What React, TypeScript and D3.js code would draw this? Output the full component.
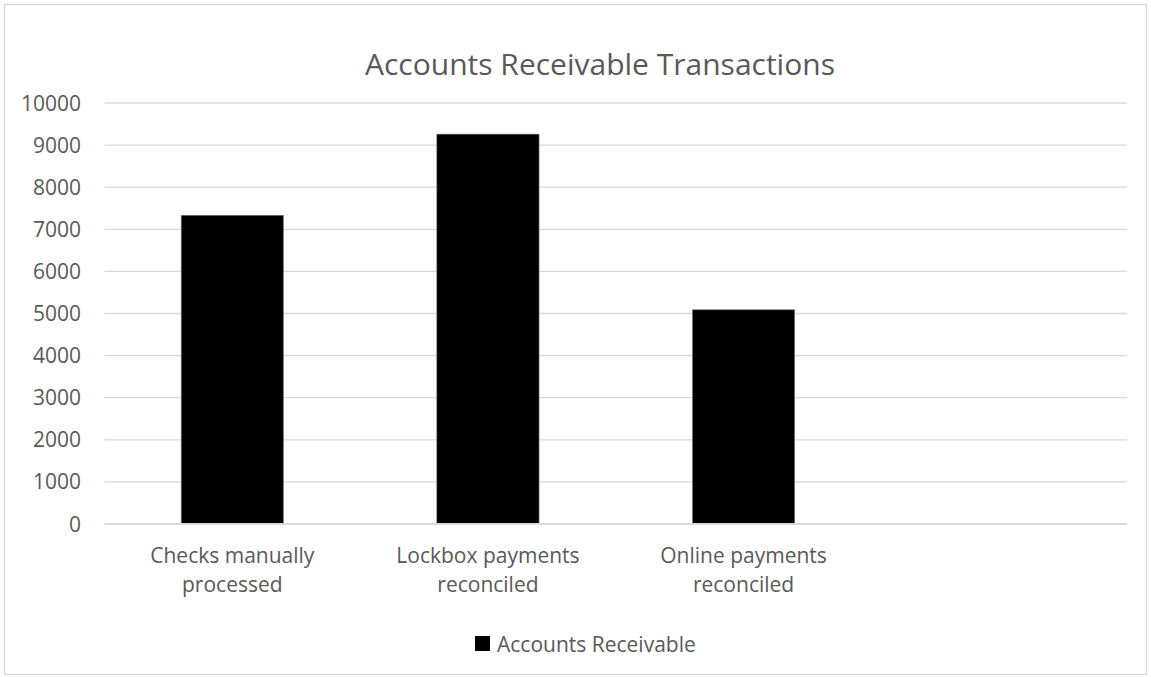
import React from "react";
import * as d3 from "d3";

// chart data
const categories = [
  "Checks manually processed",
  "Lockbox payments reconciled",
  "Online payments reconciled",
  "",
];
const values = [7333, 9261, 5088];
const yTicks = [0, 1000, 2000, 3000, 4000, 5000, 6000, 7000, 8000, 9000, 10000];
const seriesName = "Accounts Receivable";
const title = "Accounts Receivable Transactions";

const W = 1151;
const H = 677;
const plot = { left: 104.5, right: 1127, top: 103, bottom: 524 };
const textColor = "#595959";
const gridColor = "#d9d9d9";
const font = "'Open Sans', sans-serif";

// Excel wraps the long labels after the second word
const wrap = (s: string) => {
  const w = s.split(" ");
  return w.length > 2 ? [w.slice(0, 2).join(" "), w.slice(2).join(" ")] : [s];
};

const App = () => {
  const x = d3
    .scaleBand<string>()
    .domain(categories.map((c, i) => String(i)))
    .range([plot.left, plot.right])
    .paddingInner(0.6)
    .paddingOuter(0.3);

  const y = d3.scaleLinear().domain([0, 10000]).range([plot.bottom, plot.top]);
  const step = x.step();

  return (
    <div style={{ position: "absolute", left: 0, top: 0 }}>
      <svg width={W} height={H} style={{ display: "block", fontFamily: font }}>
        <rect x={0} y={0} width={W} height={H} fill="#fff" />
        <rect
          x={4.5}
          y={4.5}
          width={1142}
          height={670}
          fill="#fff"
          stroke={gridColor}
          strokeWidth={1.3}
        />

        <text x={600} y={75} textAnchor="middle" fontSize={30} fill={textColor}>
          {title}
        </text>

        {yTicks.map((t) => (
          <g key={t}>
            {t > 0 && (
              <line
                x1={plot.left}
                x2={plot.right}
                y1={y(t)}
                y2={y(t)}
                stroke={gridColor}
                strokeWidth={1.3}
              />
            )}
            <text
              x={81}
              y={y(t)}
              dy="0.36em"
              textAnchor="end"
              fontSize={21}
              fill={textColor}
            >
              {t}
            </text>
          </g>
        ))}

        {values.map((v, i) => (
          <rect
            key={i}
            x={x(String(i))}
            y={y(v)}
            width={x.bandwidth()}
            height={y(0) - y(v)}
            fill="#000"
            stroke="#7f7f7f"
            strokeWidth={0.6}
          />
        ))}

        <line
          x1={plot.left}
          x2={plot.right}
          y1={y(0)}
          y2={y(0)}
          stroke={gridColor}
          strokeWidth={2}
        />

        {categories.map((c, i) => {
          const cx = (x(String(i)) as number) + x.bandwidth() / 2;
          return (
            <text
              key={i}
              textAnchor="middle"
              fontSize={21}
              fill={textColor}
            >
              {wrap(c).map((line, j) => (
                <tspan key={j} x={cx} y={563 + j * 29}>
                  {line}
                </tspan>
              ))}
            </text>
          );
        })}

        <g>
          <rect x={475} y={636} width={15} height={15} fill="#000" />
          <text x={497} y={652} fontSize={21} fill={textColor}>
            {seriesName}
          </text>
        </g>
      </svg>
    </div>
  );
};

export default App;
